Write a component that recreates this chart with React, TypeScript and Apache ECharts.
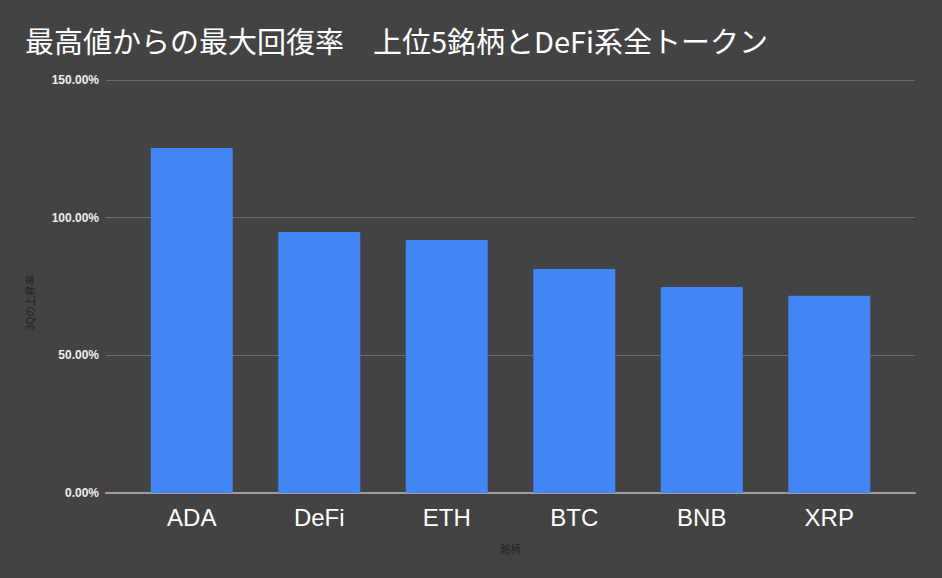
import React, { useEffect, useRef } from "react";
import * as echarts from "echarts";

const categories = ["ADA", "DeFi", "ETH", "BTC", "BNB", "XRP"];
const recoveryRates = [125.3, 94.8, 91.9, 81.4, 74.8, 71.6];
const yTicks = { min: 0, max: 150, interval: 50 };
const titleText = "最高値からの最大回復率　上位5銘柄とDeFi系全トークン";
const yAxisName = "3Qの上昇率";
const xAxisName = "銘柄";

export default function App() {
  const ref = useRef<HTMLDivElement>(null);
  useEffect(() => {
    if (!ref.current) return;
    const chart = echarts.init(ref.current, undefined, { renderer: "svg" });
    const labelFont = "'Liberation Sans', Arial, sans-serif";
    chart.setOption({
      animation: false,
      backgroundColor: "#434343",
      title: {
        text: titleText,
        left: 20,
        top: 20,
        textStyle: {
          color: "#ffffff",
          fontSize: 29,
          fontWeight: "normal",
          fontFamily: "'Noto Sans CJK JP', sans-serif",
        },
      },
      grid: [
        { left: 106, right: 27, top: 80, bottom: 85 },
        { left: 128, right: 49, top: 80, bottom: 85 },
      ],
      xAxis: [
        {
          gridIndex: 0,
          type: "value",
          min: 0,
          max: 1,
          axisLine: { show: true, onZero: false, lineStyle: { color: "#9e9e9e", width: 2 } },
          axisTick: { show: false },
          axisLabel: { show: false },
          splitLine: { show: false },
          name: xAxisName,
          nameLocation: "middle",
          nameGap: 50,
          nameTextStyle: { color: "#222222", fontSize: 10, fontFamily: "'Noto Sans CJK JP', sans-serif" },
        },
        {
          gridIndex: 1,
          type: "category",
          data: categories,
          axisLine: { show: false },
          axisTick: { show: false },
          axisLabel: { color: "#ffffff", fontSize: 24, margin: 12, fontFamily: labelFont },
        },
      ],
      yAxis: [
        {
          gridIndex: 0,
          type: "value",
          min: yTicks.min,
          max: yTicks.max,
          interval: yTicks.interval,
          axisLine: { show: false },
          axisTick: { show: false },
          axisLabel: {
            color: "#eeeeee",
            fontSize: 12,
            fontWeight: "bold",
            margin: 7,
            fontFamily: labelFont,
            formatter: (v: number) => v.toFixed(2) + "%",
          },
          splitLine: { lineStyle: { color: "#6b6b6b", width: 1 } },
          name: yAxisName,
          nameLocation: "middle",
          nameGap: 71,
          nameRotate: 90,
          nameTextStyle: {
            color: "#222222",
            fontSize: 10.5,
            fontFamily: "'Noto Sans CJK JP', sans-serif",
            padding: [0, 32, 0, 0],
          },
        },
        {
          gridIndex: 1,
          type: "value",
          min: yTicks.min,
          max: yTicks.max,
          interval: yTicks.interval,
          show: false,
          splitLine: { show: false },
        },
      ],
      series: [
        {
          type: "bar",
          xAxisIndex: 1,
          yAxisIndex: 1,
          data: recoveryRates,
          barWidth: 82,
          itemStyle: { color: "#4285f4", borderRadius: [1, 1, 0, 0] },
        },
      ],
    });
    return () => chart.dispose();
  }, []);
  return (
    <div
      ref={ref}
      style={{ position: "absolute", left: 0, top: 0, width: 942, height: 578 }}
    />
  );
}
